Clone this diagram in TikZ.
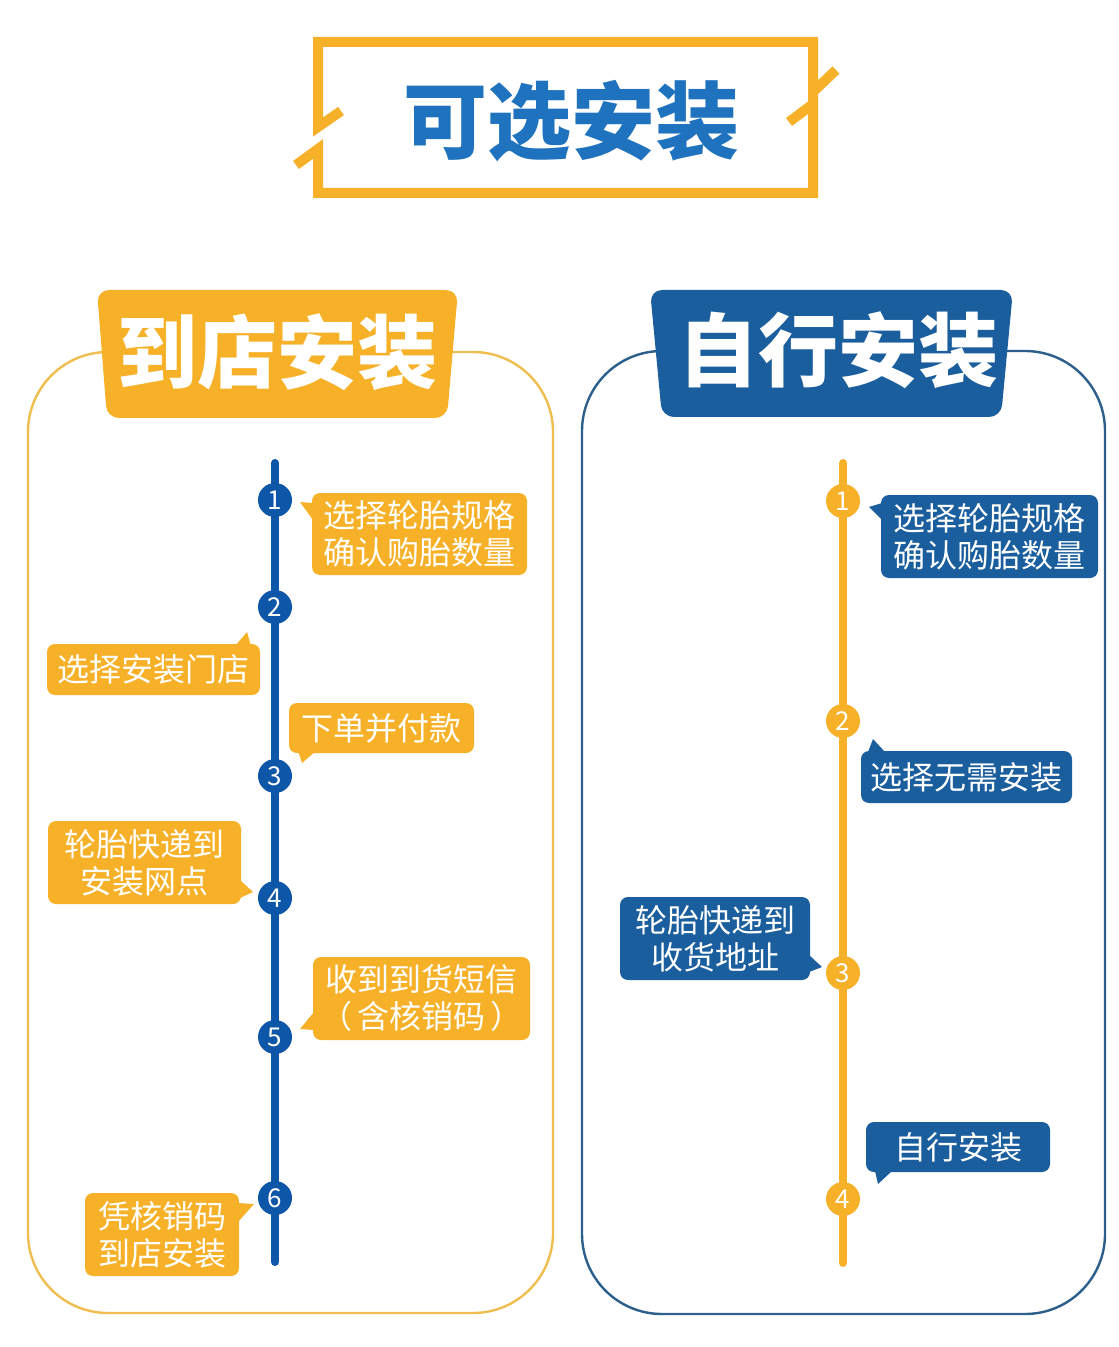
\documentclass[tikz,border=0pt]{standalone}
\usepackage{fontspec}
\newfontfamily\cjk{Noto Sans CJK SC}
\definecolor{tireorange}{RGB}{247,177,40}
\definecolor{tireblue}{RGB}{26,94,158}
\definecolor{lineblue}{RGB}{14,86,168}
\definecolor{titleblue}{RGB}{30,114,190}
\definecolor{frameorange}{RGB}{240,190,80}
\definecolor{frameblue}{RGB}{45,95,140}
\tikzset{
  tipbox/.style={rounded corners=4pt, text=white, align=center, inner sep=0pt,
    font=\cjk\fontsize{16}{18.5}\selectfont},
  orangebox/.style={tipbox, fill=tireorange},
  bluebox/.style={tipbox, fill=tireblue},
  stepdot/.style={circle, minimum size=17pt, inner sep=0pt, text=white,
    font=\cjk\fontsize{13}{13}\selectfont},
  bannertext/.style={text=white, font=\cjk\bfseries\fontsize{40}{42}\selectfont}
}
\begin{document}
\begin{tikzpicture}[x=0.5pt,y=-0.5pt]
        \useasboundingbox (0,0) rectangle (1118,1347);

        % draw title frame
        \draw[tireorange, line width=5pt] (341,111) -- (318,127) -- (318,42) -- (813,42) -- (813,92) -- (836,70);
        \draw[tireorange, line width=5pt] (296,165) -- (318,149) -- (318,193) -- (813,193) -- (813,104) -- (789,122);
        \node[text=titleblue, font=\cjk\bfseries\fontsize{42}{44}\selectfont] (title) at (571,121) {可选安装};

        % draw panels
        \draw[frameorange, line width=1.2pt, rounded corners=40pt] (28,352) rectangle (553,1313);
        \draw[frameblue, line width=1.2pt, rounded corners=40pt] (582,351) rectangle (1105,1314);

        % draw banners
        \fill[tireorange, rounded corners=6pt] (97,290) -- (458,290) -- (447,418) -- (107,418) -- cycle;
        \node[bannertext] (shop) at (277,352) {到店安装};
        \fill[tireblue, rounded corners=6pt] (650,290) -- (1013,290) -- (1001,417) -- (662,417) -- cycle;
        \node[bannertext] (self) at (838,350) {自行安装};

        % draw time lines
        \coordinate (ltop) at (275,463);
        \coordinate (lbot) at (275,1262);
        \coordinate (rtop) at (843,463);
        \coordinate (rbot) at (843,1263);
        \draw[lineblue, line width=4pt, line cap=round] (ltop) -- (lbot);
        \draw[tireorange, line width=4pt, line cap=round] (rtop) -- (rbot);

        % draw steps
        \foreach \n/\y in {1/500,2/607,3/776,4/898,5/1037,6/1198}
          \node[stepdot, fill=lineblue] (l\n) at (275,\y) {\n};
        \foreach \n/\y in {1/501,2/721,3/973,4/1199}
          \node[stepdot, fill=tireorange] (r\n) at (843,\y) {\n};

        % draw left boxes
        \node[orangebox, minimum width=107.5pt, minimum height=41pt] (b1) at (419.5,534) {选择轮胎规格\\确认购胎数量};
        \fill[tireorange] (313,503) -- (300,502) -- (313,520) -- cycle;
        \node[orangebox, minimum width=106.5pt, minimum height=25.5pt] (b2) at (153.5,669.5) {选择安装门店};
        \fill[tireorange] (235,646) -- (247,632) -- (251,646) -- cycle;
        \node[orangebox, minimum width=92.5pt, minimum height=25pt] (b3) at (381.5,728) {下单并付款};
        \fill[tireorange] (298,751) -- (302,763) -- (316,751) -- cycle;
        \node[orangebox, minimum width=96.5pt, minimum height=41.5pt] (b4) at (144.5,862.5) {轮胎快递到\\安装网点};
        \fill[tireorange] (240,880) -- (253,892) -- (240,898) -- cycle;
        \node[orangebox, minimum width=108.5pt, minimum height=41.5pt] (b5) at (421.5,998.5) {收到到货短信\\（\,含核销码\,）};
        \fill[tireorange] (314,1012) -- (300,1029) -- (314,1030) -- cycle;
        \node[orangebox, minimum width=77pt, minimum height=41.5pt] (b6) at (162,1234.5) {凭核销码\\到店安装};
        \fill[tireorange] (238,1203) -- (254,1204) -- (238,1222) -- cycle;

        % draw right boxes
        \node[bluebox, minimum width=108.5pt, minimum height=41.5pt] (c1) at (989.5,536.5) {选择轮胎规格\\确认购胎数量};
        \fill[tireblue] (882,503) -- (869,507) -- (882,520) -- cycle;
        \node[bluebox, minimum width=105.5pt, minimum height=26pt] (c2) at (966.5,777) {选择无需安装};
        \fill[tireblue] (868,752) -- (873,739) -- (885,752) -- cycle;
        \node[bluebox, minimum width=95pt, minimum height=41.5pt] (c3) at (715,938.5) {轮胎快递到\\收货地址};
        \fill[tireblue] (809,955) -- (822,967) -- (809,972) -- cycle;
        \node[bluebox, minimum width=92pt, minimum height=25pt] (c4) at (958,1147) {自行安装};
        \fill[tireblue] (875,1171) -- (878,1184) -- (892,1171) -- cycle;
\end{tikzpicture}
\end{document}
